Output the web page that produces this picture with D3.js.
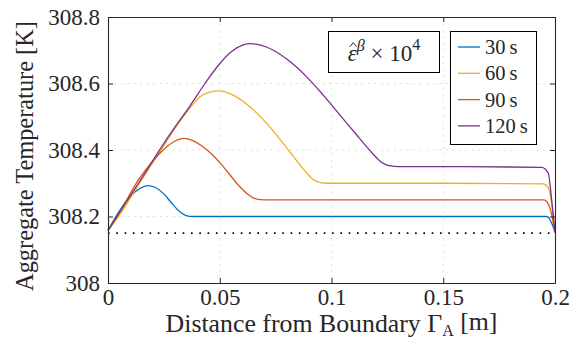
<!DOCTYPE html>
<html>
<head>
<meta charset="utf-8">
<script src="https://cdn.jsdelivr.net/npm/d3@7"></script>
<style>
  body { margin: 0; background: #fff; }
</style>
</head>
<body>
<svg id="chart" width="573" height="340"></svg>
<script>
// Data
const seriesNames = ['30\u2009s', '60\u2009s', '90\u2009s', '120\u2009s'];
const seriesColors = ['#0072BD', '#EDB120', '#D95319', '#7E2F8E'];

const temp30 = [
  [0, 308.158], [0.004, 308.205], [0.008, 308.245], [0.012, 308.274], [0.016, 308.29],
  [0.018, 308.293], [0.021, 308.288], [0.025, 308.268], [0.0285, 308.24], [0.032, 308.215],
  [0.035, 308.203], [0.038, 308.2], [0.06, 308.2], [0.1, 308.2], [0.15, 308.2],
  [0.196, 308.2], [0.197, 308.198], [0.198, 308.187], [0.199, 308.172], [0.2, 308.152]
];
const temp60 = [
  [0, 308.158], [0.005, 308.203], [0.0136, 308.295], [0.0247, 308.41], [0.03, 308.465],
  [0.036, 308.52], [0.0412, 308.56], [0.0479, 308.577], [0.05, 308.578], [0.056, 308.565],
  [0.0635, 308.53], [0.071, 308.48], [0.0784, 308.42], [0.0859, 308.355], [0.089, 308.33],
  [0.0915, 308.313], [0.094, 308.304], [0.097, 308.3], [0.15, 308.3], [0.1948, 308.298],
  [0.197, 308.286], [0.1985, 308.24], [0.2, 308.152]
];
const temp90 = [
  [0, 308.158], [0.005, 308.21], [0.0136, 308.31], [0.018, 308.35], [0.0247, 308.4],
  [0.03, 308.427], [0.0337, 308.435], [0.038, 308.428], [0.042, 308.412], [0.046, 308.39],
  [0.05, 308.362], [0.054, 308.33], [0.058, 308.297], [0.062, 308.27], [0.065, 308.256],
  [0.068, 308.251], [0.072, 308.25], [0.12, 308.25], [0.195, 308.25], [0.1963, 308.245],
  [0.198, 308.22], [0.199, 308.19], [0.2, 308.152]
];
const temp120 = [
  [0, 308.158], [0.0061, 308.222], [0.0136, 308.3], [0.0285, 308.455], [0.0367, 308.533],
  [0.0434, 308.6], [0.0494, 308.655], [0.055, 308.695], [0.0605, 308.716], [0.0635, 308.72],
  [0.068, 308.716], [0.074, 308.7], [0.0814, 308.666], [0.0889, 308.62], [0.0963, 308.565],
  [0.1038, 308.505], [0.1113, 308.445], [0.1157, 308.41], [0.119, 308.385], [0.1215, 308.368],
  [0.124, 308.357], [0.1265, 308.352], [0.13, 308.35], [0.16, 308.35], [0.194, 308.348],
  [0.197, 308.33], [0.1985, 308.25], [0.2, 308.152]
];
const allSeries = [temp30, temp60, temp90, temp120];

const referenceTemp = 308.15;
const xTicks = [0, 0.05, 0.1, 0.15, 0.2];
const xTickLabels = ['0', '0.05', '0.1', '0.15', '0.2'];
const yTicks = [308, 308.2, 308.4, 308.6, 308.8];
const yTickLabels = ['308', '308.2', '308.4', '308.6', '308.8'];

// Layout
const margin = { top: 17, right: 18, bottom: 57, left: 108 };
const width = 573 - margin.left - margin.right;
const height = 340 - margin.top - margin.bottom;
const axisColor = '#262626';

// pick a serif face if one is really installed
function hasFont(name) {
  const c = document.createElement('canvas').getContext('2d');
  const s = 'mmmmlliiWW 308.8 Temperature';
  return ['monospace', 'sans-serif'].some(fb => {
    c.font = `40px ${fb}`;
    const w1 = c.measureText(s).width;
    c.font = `40px "${name}", ${fb}`;
    return c.measureText(s).width !== w1;
  });
}
const serifName = ['Liberation Serif', 'DejaVu Serif', 'Noto Serif', 'Tinos', 'Times New Roman', 'FreeSerif']
  .find(hasFont);
const serif = serifName ? `"${serifName}", serif` : 'serif';
d3.select('head').append('style')
  .text(`#chart text, #chart tspan { font-family: ${serif} !important; }`);

// scale a text so its width matches the reference
function fit(sel, target) {
  sel.style('font-size', '20px');
  const w = sel.node().getBBox().width;
  const size = 20 * target / w;
  sel.style('font-size', size.toFixed(2) + 'px');
  return size;
}

const svg = d3.select('#chart').style('font-family', serif);
const g = svg.append('g').attr('transform', `translate(${margin.left},${margin.top})`);

const x = d3.scaleLinear().domain([0, 0.2]).range([0, width]);
const y = d3.scaleLinear().domain([308, 308.8]).range([height, 0]);

// Grid lines
g.append('g')
  .selectAll('line')
  .data(xTicks.slice(1, -1))
  .join('line')
  .attr('x1', d => x(d)).attr('x2', d => x(d))
  .attr('y1', 0).attr('y2', height)
  .attr('stroke', '#d4d4d4').attr('stroke-width', 1)
  .attr('stroke-dasharray', '1.5,5');
g.append('g')
  .selectAll('line')
  .data(yTicks.slice(1, -1))
  .join('line')
  .attr('y1', d => y(d)).attr('y2', d => y(d))
  .attr('x1', 0).attr('x2', width)
  .attr('stroke', '#d4d4d4').attr('stroke-width', 1)
  .attr('stroke-dasharray', '1.5,5');

// Dotted reference line
g.append('line')
  .attr('x1', x(0)).attr('x2', x(0.2))
  .attr('y1', y(referenceTemp)).attr('y2', y(referenceTemp))
  .attr('stroke', '#000').attr('stroke-width', 1.6)
  .attr('stroke-dasharray', '1.6,6.7');

// Curves
const line = d3.line()
  .x(d => x(d[0]))
  .y(d => y(d[1]))
  .curve(d3.curveMonotoneX);

g.append('g')
  .selectAll('path')
  .data(allSeries)
  .join('path')
  .attr('d', line)
  .attr('fill', 'none')
  .attr('stroke', (d, i) => seriesColors[i])
  .attr('stroke-width', 1.3);

// Axes (ticks pointing inward, box closed)
const xAxis = d3.axisBottom(x).tickValues(xTicks).tickFormat((d, i) => xTickLabels[i])
  .tickSizeInner(-5).tickSizeOuter(0);
const yAxis = d3.axisLeft(y).tickValues(yTicks).tickFormat((d, i) => yTickLabels[i])
  .tickSizeInner(-5).tickSizeOuter(0).tickPadding(8);

const gx = g.append('g').attr('transform', `translate(0,${height})`).call(xAxis);
const gy = g.append('g').call(yAxis);
const gxTop = g.append('g').call(d3.axisTop(x).tickValues(xTicks).tickFormat('').tickSizeInner(-5).tickSizeOuter(0));
const gyRight = g.append('g').attr('transform', `translate(${width},0)`)
  .call(d3.axisRight(y).tickValues(yTicks).tickFormat('').tickSizeInner(-5).tickSizeOuter(0));

[gx, gy, gxTop, gyRight].forEach(a => {
  a.attr('font-family', null).attr('font-size', null);
  a.select('.domain').attr('stroke', axisColor).attr('stroke-width', 1.1);
  a.selectAll('.tick line').attr('stroke', axisColor);
});
const topTick = gy.selectAll('.tick text').filter((d, i) => i === yTicks.length - 1);
const tickSize = Math.min(fit(topTick, 54), 23);
[gx, gy].forEach(a => {
  a.selectAll('.tick text')
    .style('font-size', tickSize + 'px')
    .attr('fill', axisColor);
});
gx.selectAll('.tick text').attr('y', 22).attr('dy', 0);

// Axis labels
const xLabel = svg.append('text')
  .attr('x', margin.left + width / 2)
  .attr('y', 332)
  .attr('text-anchor', 'middle')
  .attr('fill', axisColor);
xLabel.append('tspan').text('Distance from Boundary \u0393');
xLabel.append('tspan').text('A').style('font-size', '0.62em').attr('dy', '0.25em');
xLabel.append('tspan').text(' [m]').attr('dy', '-0.25em');
fit(xLabel, 332);

const yLabel = svg.append('text')
  .attr('transform', `translate(33,${margin.top + height / 2 + 6}) rotate(-90)`)
  .attr('text-anchor', 'middle')
  .attr('fill', axisColor)
  .text('Aggregate Temperature [K]');
fit(yLabel, 270);

// Annotation box
const ann = svg.append('g');
ann.append('rect')
  .attr('x', 328.5).attr('y', 31.5).attr('width', 111).attr('height', 41)
  .attr('fill', '#fff').attr('stroke', '#000').attr('stroke-width', 1);
const annText = ann.append('text')
  .attr('x', 384).attr('y', 61)
  .attr('text-anchor', 'middle')
  .attr('fill', axisColor);
annText.append('tspan').text('\u03b5').style('font-style', 'italic');
annText.append('tspan').text('\u03b2').style('font-style', 'italic')
  .style('font-size', '0.7em').attr('dy', '-0.65em');
annText.append('tspan').text(' \u00d7 10').attr('dy', '0.45em');
annText.append('tspan').text('4').style('font-size', '0.7em').attr('dy', '-0.65em');
const annSize = Math.min(fit(annText, 88), 23);
annText.style('font-size', annSize + 'px');
// hat over epsilon (drawn as a small stroke)
const eps = annText.node().getExtentOfChar(0);
const hatX = eps.x + eps.width / 2 + 1;
const hatY = 61 - annSize * 0.62;
ann.append('path')
  .attr('d', d3.line()([[hatX - 3.5, hatY], [hatX, hatY - 4], [hatX + 3.5, hatY]]))
  .attr('fill', 'none').attr('stroke', axisColor).attr('stroke-width', 1);

// Legend
const legend = svg.append('g');
legend.append('rect')
  .attr('x', 450.5).attr('y', 31.5).attr('width', 86).attr('height', 113)
  .attr('fill', '#fff').attr('stroke', '#000').attr('stroke-width', 1);
const rows = legend.selectAll('g.row')
  .data(seriesNames)
  .join('g')
  .attr('class', 'row')
  .attr('transform', (d, i) => `translate(0,${47 + i * 26.3})`);
rows.append('line')
  .attr('x1', 458).attr('x2', 480)
  .attr('stroke', (d, i) => seriesColors[i]).attr('stroke-width', 1.3);
const legTexts = rows.append('text')
  .attr('x', 485).attr('y', 7)
  .attr('fill', axisColor)
  .text(d => d);
const legSize = Math.min(fit(legTexts.filter((d, i) => i === 3), 43), 22);
legTexts.style('font-size', legSize + 'px');
</script>
</body>
</html>
